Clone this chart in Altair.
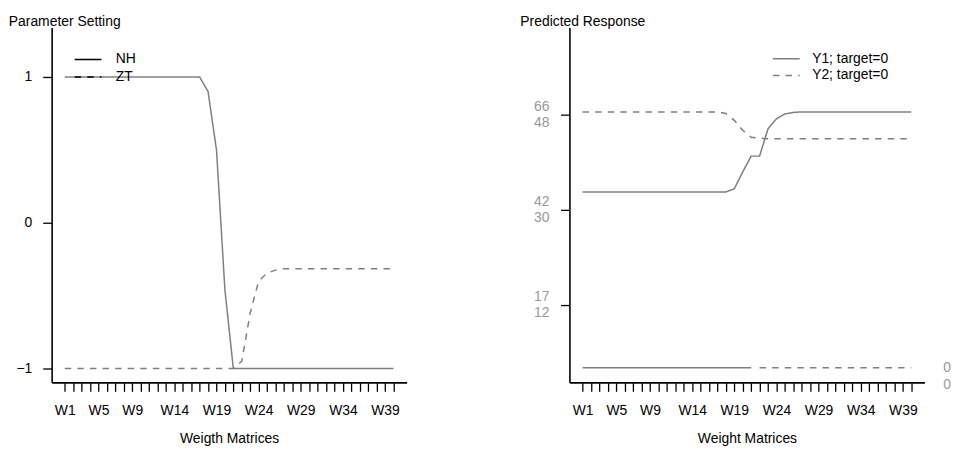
import altair as alt
import pandas as pd

# ---------------- data ----------------
idx = list(range(1, 41))
weights = ["W%d" % i for i in idx]
shown_x_labels = [1, 5, 9, 14, 19, 24, 29, 34, 39]

# left panel: parameter setting
nh = [1.0, 1.0, 1.0, 1.0, 1.0, 1.0, 1.0, 1.0, 1.0, 1.0,
      1.0, 1.0, 1.0, 1.0, 1.0, 1.0, 1.0, 0.9, 0.5, -0.46,
      -1.0, -1.0, -1.0, -1.0, -1.0, -1.0, -1.0, -1.0, -1.0, -1.0,
      -1.0, -1.0, -1.0, -1.0, -1.0, -1.0, -1.0, -1.0, -1.0, -1.0]
zt = [-1.0, -1.0, -1.0, -1.0, -1.0, -1.0, -1.0, -1.0, -1.0, -1.0,
      -1.0, -1.0, -1.0, -1.0, -1.0, -1.0, -1.0, -1.0, -1.0, -1.0,
      -1.0, -0.95, -0.62, -0.40, -0.345, -0.325, -0.315, -0.315, -0.315, -0.315,
      -0.315, -0.315, -0.315, -0.315, -0.315, -0.315, -0.315, -0.315, -0.315, -0.315]
left_series = ["NH", "ZT"]
left_ticks = [-1, 0, 1]

# right panel: predicted response (in the Y2 axis units)
y1 = [33.4, 33.4, 33.4, 33.4, 33.4, 33.4, 33.4, 33.4, 33.4, 33.4,
      33.4, 33.4, 33.4, 33.4, 33.4, 33.4, 33.4, 33.4, 34.0, 37.2,
      40.2, 40.2, 45.4, 47.3, 48.2, 48.5, 48.6, 48.6, 48.6, 48.6,
      48.6, 48.6, 48.6, 48.6, 48.6, 48.6, 48.6, 48.6, 48.6, 48.6]
y2 = [48.6, 48.6, 48.6, 48.6, 48.6, 48.6, 48.6, 48.6, 48.6, 48.6,
      48.6, 48.6, 48.6, 48.6, 48.6, 48.6, 48.6, 48.3, 47.0, 45.1,
      43.8, 43.6, 43.5, 43.5, 43.5, 43.5, 43.5, 43.5, 43.5, 43.5,
      43.5, 43.5, 43.5, 43.5, 43.5, 43.5, 43.5, 43.5, 43.5, 43.5]
right_series = ["Y1; target=0", "Y2; target=0"]
right_tick_pos = [12, 30, 48]
y1_tick_labels = ["17", "42", "66"]
y2_tick_labels = ["12", "30", "48"]
# target lines (value 0), Y1 drawn over W1-W21, Y2 over W22-W40
target_value = 0
target_ranges = {"Y1; target=0": (1, 21), "Y2; target=0": (22, 40)}
target_labels = ["0", "0"]

# ---------------- styling ----------------
FONT = "Liberation Sans"
FS = 14
LINE = "#7f7f7f"
GRAY_TXT = "#999999"
W = 358
H = 358
DASHES = [[1, 0], [6.5, 6.2]]
X_DOM = [-0.56, 41.56]
LEGEND_SYMBOL = "M-2.7,0L2.7,0"

left_rows = []
for i, a, b in zip(idx, nh, zt):
    left_rows.append({"idx": i, "series": "NH", "value": a})
    left_rows.append({"idx": i, "series": "ZT", "value": b})
left_df = pd.DataFrame(left_rows)

right_rows = []
for i, a, b in zip(idx, y1, y2):
    right_rows.append({"idx": i, "series": right_series[0], "value": a})
    right_rows.append({"idx": i, "series": right_series[1], "value": b})
right_df = pd.DataFrame(right_rows)

target_rows = []
for s, (a, b) in target_ranges.items():
    for i in idx:
        if a <= i <= b:
            target_rows.append({"idx": i, "series": s, "value": target_value, "grp": "t_" + s})
target_df = pd.DataFrame(target_rows)

x_label_expr = "indexof([%s], datum.value) >= 0 ? 'W' + datum.value : ''" % ",".join(
    str(v) for v in shown_x_labels)


def x_enc(title):
    return alt.X(
        "idx:Q",
        scale=alt.Scale(domain=X_DOM, nice=False, zero=False),
        axis=alt.Axis(
            title=title, values=idx, labelExpr=x_label_expr,
            labelOverlap=False, labelFlush=False, grid=False,
            ticks=True, tickSize=9, tickWidth=1.3, tickColor="black",
            domainColor="black", domainWidth=1.6,
            labelFont=FONT, labelFontSize=FS, labelColor="black",
            labelBaseline="alphabetic", labelPadding=23,
            titleFont=FONT, titleFontSize=FS, titleFontWeight="normal",
            titleColor="black", titleBaseline="alphabetic", titleY=61,
        ),
    )


def legend(color, x, y, row_pad, label_off):
    return alt.Legend(
        title=None, orient="none", legendX=x, legendY=y, padding=0,
        symbolType=LEGEND_SYMBOL, symbolSize=100, symbolStrokeWidth=1.5,
        symbolStrokeColor=color, labelFont=FONT, labelFontSize=FS,
        labelColor="black", labelOffset=label_off, rowPadding=row_pad,
    )


# ---------------- left panel ----------------
left = alt.Chart(left_df).mark_line(color=LINE, strokeWidth=1.5).encode(
    x=x_enc("Weigth Matrices"),
    y=alt.Y(
        "value:Q",
        scale=alt.Scale(domain=[-1.095, 1.34], nice=False, zero=False),
        axis=alt.Axis(
            title="Parameter Setting", values=left_ticks, grid=False,
            ticks=True, tickSize=9, tickWidth=1.3, tickColor="black",
            domainColor="black", domainWidth=1.6,
            labelFont=FONT, labelFontSize=FS, labelColor="black",
            labelBaseline="middle", labelPadding=11,
            titleAngle=0, titleAlign="left", titleBaseline="alphabetic",
            titleX=-43.7, titleY=-2.3, titleFont=FONT, titleFontSize=FS,
            titleFontWeight="normal", titleColor="black",
        ),
    ),
    strokeDash=alt.StrokeDash(
        "series:N",
        scale=alt.Scale(domain=left_series, range=DASHES),
        legend=legend("black", 29.75, 25.3, 3.7, 21),
    ),
).properties(width=W, height=H)

# ---------------- right panel ----------------
right_label_expr = " : ".join(
    "datum.value == %s ? ['%s','%s']" % (p, a, b)
    for p, a, b in zip(right_tick_pos[:-1], y1_tick_labels[:-1], y2_tick_labels[:-1])
) + " : ['%s','%s']" % (y1_tick_labels[-1], y2_tick_labels[-1])

y_dom = [-2.77, 64.65]

resp = alt.Chart(right_df).mark_line(color=LINE, strokeWidth=1.5).encode(
    x=x_enc("Weight Matrices"),
    y=alt.Y(
        "value:Q",
        scale=alt.Scale(domain=y_dom, nice=False, zero=False),
        axis=alt.Axis(
            title="Predicted Response", values=right_tick_pos, grid=False,
            labelExpr=right_label_expr, labelLineHeight=16.5,
            ticks=True, tickSize=9, tickWidth=1.3, tickColor="black",
            domainColor="black", domainWidth=1.6,
            labelFont=FONT, labelFontSize=FS, labelColor=GRAY_TXT,
            labelBaseline="middle", labelOffset=-8.5, labelPadding=11.6,
            labelAlign="right",
            titleAngle=0, titleAlign="left", titleBaseline="alphabetic",
            titleX=-50, titleY=-2.3, titleFont=FONT, titleFontSize=FS,
            titleFontWeight="normal", titleColor="black",
        ),
    ),
    strokeDash=alt.StrokeDash(
        "series:N",
        scale=alt.Scale(domain=right_series, range=DASHES),
        legend=legend(LINE, 211.75, 24.7, 2.7, 19),
    ),
)

targets = alt.Chart(target_df).mark_line(color=LINE, strokeWidth=1.5).encode(
    x=x_enc("Weight Matrices"),
    y=alt.Y(
        "value:Q",
        scale=alt.Scale(domain=y_dom, nice=False, zero=False),
        axis=alt.Axis(
            title=None, orient="right", values=[target_value], grid=False,
            domain=False, ticks=False,
            labelExpr="['%s','%s']" % tuple(target_labels), labelLineHeight=16.5,
            labelFont=FONT, labelFontSize=FS, labelColor=GRAY_TXT,
            labelBaseline="middle", labelPadding=18.5,
        ),
    ),
    strokeDash=alt.StrokeDash(
        "series:N",
        scale=alt.Scale(domain=right_series, range=DASHES),
        legend=None,
    ),
    detail="grp:N",
)

right = alt.layer(resp, targets).resolve_scale(y="independent").properties(width=W, height=H)

chart = alt.hconcat(left, right, spacing=114.2).resolve_scale(
    strokeDash="independent"
).resolve_legend(strokeDash="independent").properties(
    padding={"left": 0, "top": 3.7, "right": 0, "bottom": 0}
).configure_view(stroke=None)

chart.save("out.html", embed_options={"renderer": "svg", "actions": False})
